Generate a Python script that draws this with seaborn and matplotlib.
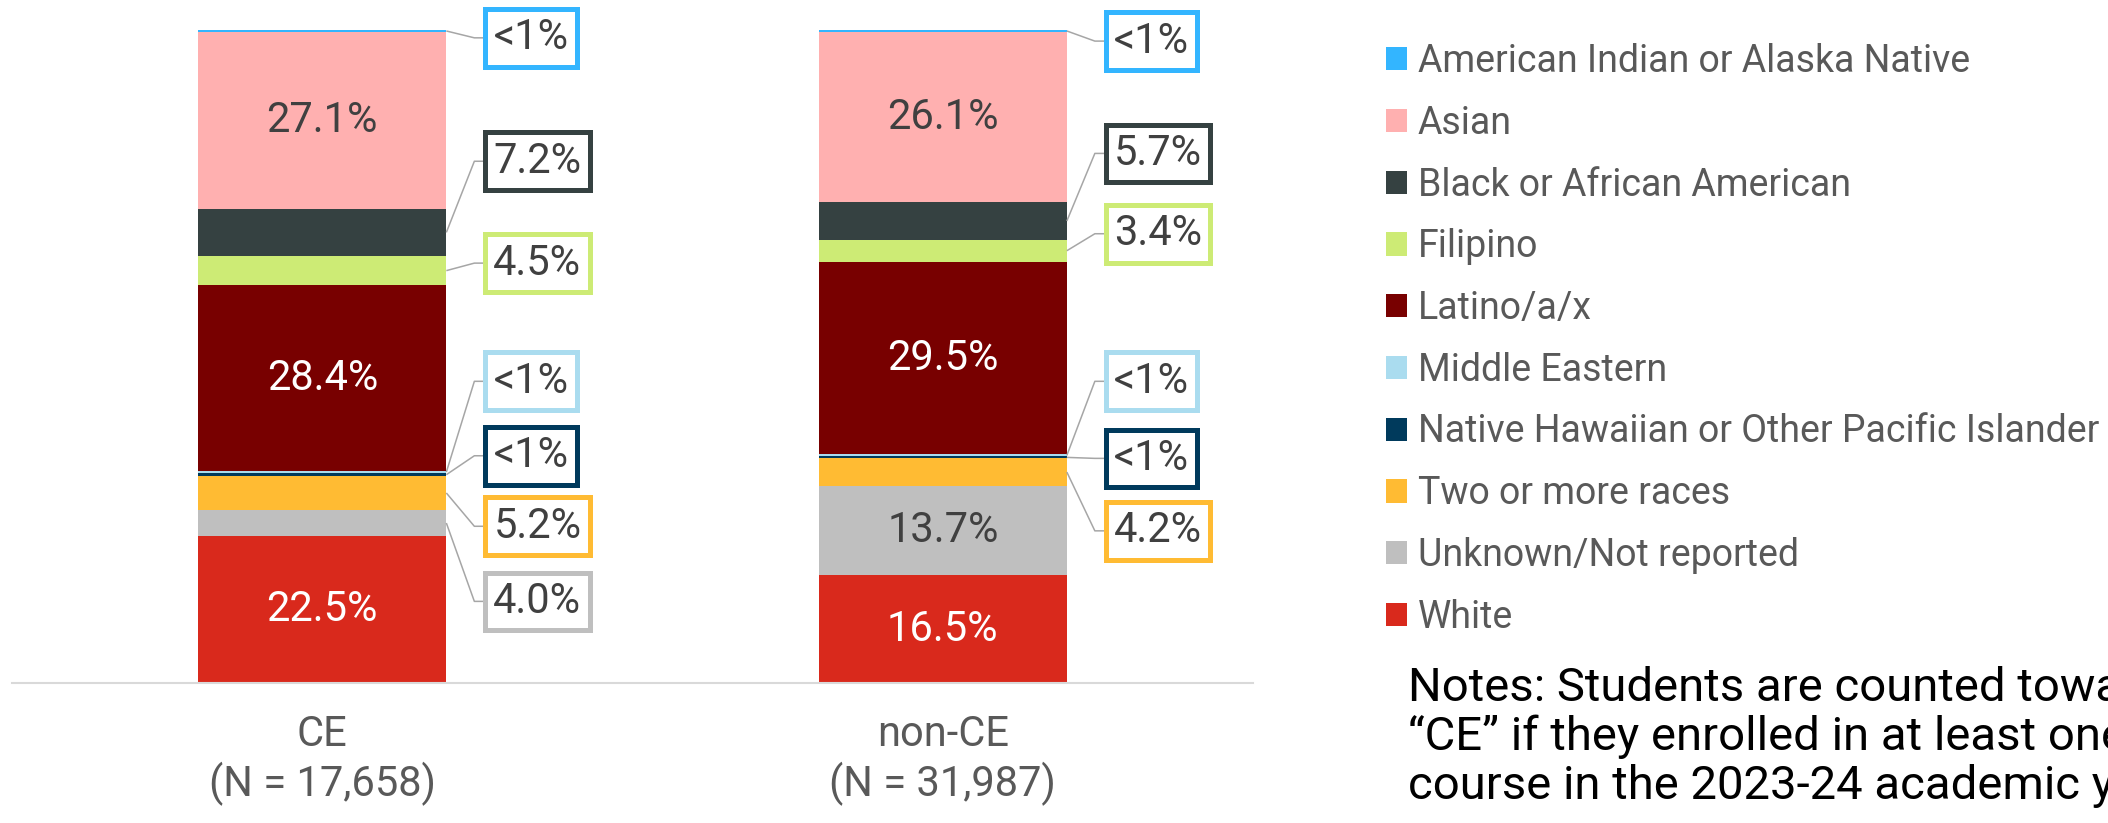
import pandas as pd
import seaborn as sns
import matplotlib.pyplot as plt
from matplotlib.colors import to_rgb
from matplotlib.patches import Patch

# Data (stack order: bottom -> top)
groups = ["CE", "non-CE"]
group_n = [17658, 31987]
races = ["White", "Unknown/Not reported", "Two or more races",
         "Native Hawaiian or Other Pacific Islander", "Middle Eastern",
         "Latino/a/x", "Filipino", "Black or African American", "Asian",
         "American Indian or Alaska Native"]
ce_pct = [22.5, 4.0, 5.2, 0.4, 0.4, 28.4, 4.5, 7.2, 27.1, 0.3]
nonce_pct = [16.5, 13.7, 4.2, 0.3, 0.3, 29.5, 3.4, 5.7, 26.1, 0.3]
race_colors = ["#d9291c", "#bfbfbf", "#ffbb33", "#003a5c", "#aadcef",
               "#780000", "#cdeb75", "#354141", "#ffb0b0", "#33b5ff"]

# callout label heights (percent units) for small segments, per group
callout_y = {
    "CE": {"Unknown/Not reported": 12.5, "Two or more races": 24.0,
           "Native Hawaiian or Other Pacific Islander": 34.8,
           "Middle Eastern": 46.2, "Filipino": 64.3,
           "Black or African American": 79.9,
           "American Indian or Alaska Native": 98.8},
    "non-CE": {"Two or more races": 23.3,
               "Native Hawaiian or Other Pacific Islander": 34.4,
               "Middle Eastern": 46.2, "Filipino": 68.8,
               "Black or African American": 81.1,
               "American Indian or Alaska Native": 98.3},
}

sns.set_style("white")
plt.rcParams["font.family"] = ["Roboto", "DejaVu Sans"]

rows = []
for g, vals in zip(groups, [ce_pct, nonce_pct]):
    cum = 0
    for r, v in zip(races, vals):
        cum += v
        rows.append({"group": g, "race": r, "pct": v, "top": cum})
df = pd.DataFrame(rows)
df["mid"] = df["top"] - df["pct"] / 2

W, H = 2108, 823
fig = plt.figure(figsize=(W / 100, H / 100), dpi=100)
ax = fig.add_axes([12 / W, 140 / H, 1241 / W, 653 / H])

# stacked bars: draw cumulative tops from the top layer down
for r, c in zip(races[::-1], race_colors[::-1]):
    sns.barplot(data=df[df["race"] == r], x="group", y="top", order=groups,
                color=c, saturation=1, width=0.4, linewidth=0,
                errorbar=None, ax=ax)

unit = 620.5  # px per category
for i, g in enumerate(groups):
    sub = df[df["group"] == g]
    for _, row in sub.iterrows():
        col = race_colors[races.index(row["race"])]
        lab = "<1%" if row["pct"] < 1 else f"{row['pct']:.1f}%"
        if row["pct"] >= 10:
            rr, gg, bb = to_rgb(col)
            lum = 0.299 * rr + 0.587 * gg + 0.114 * bb
            ax.text(i, row["mid"], lab, ha="center", va="center", fontsize=30,
                    color="white" if lum < 0.5 else "#404040")
        else:
            ly = callout_y[g][row["race"]]
            x0 = i + 0.2
            ax.plot([x0, x0 + 28 / unit, x0 + 45 / unit], [row["mid"], ly, ly],
                    color="#a6a6a6", lw=1.1, zorder=3, solid_capstyle="butt")
            ax.text(x0 + 47 / unit, ly, lab, ha="left", va="center", fontsize=30,
                    color="#404040", zorder=5,
                    bbox=dict(boxstyle="square,pad=0.2", fc="white", ec=col, lw=3.6))

ax.set_xlim(-0.5, 1.5)
ax.set_ylim(0, 100)
ax.set_yticks([])
ax.set_xlabel("")
ax.set_ylabel("")
ax.set_xticks(range(len(groups)))
ax.set_xticklabels([f"{g}\n(N = {n:,})" for g, n in zip(groups, group_n)])
ax.tick_params(axis="x", length=0, pad=22, labelsize=30, labelcolor="#595959")
for s in ["top", "left", "right"]:
    ax.spines[s].set_visible(False)
ax.spines["bottom"].set_color("#d9d9d9")
ax.spines["bottom"].set_linewidth(1.5)

handles = [Patch(fc=c, ec="none") for c in race_colors[::-1]]
fig.legend(handles, races[::-1], loc="upper left",
           bbox_to_anchor=(1386 / W, 1 - 43 / H), frameon=False, fontsize=27,
           handlelength=0.57, handleheight=0.57, handletextpad=0.27,
           labelspacing=0.66, borderpad=0, borderaxespad=0, labelcolor="#595959")

notes = ["Notes: Students are counted toward",
         "\u201cCE\u201d if they enrolled in at least one CE",
         "course in the 2023-24 academic year."]
for k, line in enumerate(notes):
    fig.text(1408 / W, 1 - (688 + 49 * k) / H, line, ha="left", va="center",
             fontsize=34, color="black")

fig.savefig("out.png", dpi=100)
